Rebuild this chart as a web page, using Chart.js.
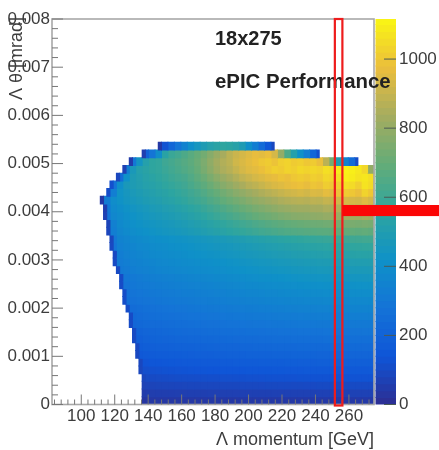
<!DOCTYPE html>
<html>
<head>
<meta charset="utf-8">
<script src="https://cdn.jsdelivr.net/npm/chart.js@4"></script>
<style>
  html, body { margin: 0; background: #fff; }
  canvas { display: block; filter: blur(0.5px); }
</style>
</head>
<body>
<canvas id="hist" width="439" height="450"></canvas>
<script>
// histogram binning
const xBinStart = 82.5, xBinWidth = 1.925, yBinWidth = 0.00016;
const xMin = 82.5, xMax = 288.15, yMax = 0.008, zMax = 1116;

const xTickValues = [100, 120, 140, 160, 180, 200, 220, 240, 260];
const xMinorTicks = [84, 88, 92, 96, 104, 108, 112, 116, 124, 128, 132, 136, 144, 148, 152, 156, 164, 168, 172, 176, 184, 188, 192, 196, 204, 208, 212, 216, 224, 228, 232, 236, 244, 248, 252, 256, 264, 268, 272];
const yTickValues = [0, 0.001, 0.002, 0.003, 0.004, 0.005, 0.006, 0.007, 0.008];
const yTickLabels = ['0', '0.001', '0.002', '0.003', '0.004', '0.005', '0.006', '0.007', '0.008'];
const yMinorTicks = [0.0002, 0.0004, 0.0006, 0.0008, 0.0012, 0.0014, 0.0016, 0.0018, 0.0022, 0.0024, 0.0026, 0.0028, 0.0032, 0.0034, 0.0036, 0.0038, 0.0042, 0.0044, 0.0046, 0.0048, 0.0052, 0.0054, 0.0056, 0.0058, 0.0062, 0.0064, 0.0066, 0.0068, 0.0072, 0.0074, 0.0076, 0.0078];
const zTickValues = [0, 200, 400, 600, 800, 1000];

// colour bar levels
const zLevels = [10, 30, 50, 70, 90, 110, 130, 150, 170, 190, 210, 230, 250, 270, 290, 310, 330, 350, 370, 390, 410, 430, 450, 470, 490, 510, 530, 550, 570, 590, 610, 630, 650, 670, 690, 710, 730, 750, 770, 790, 810, 830, 850, 870, 890, 910, 930, 950, 970, 990, 1010, 1030, 1050, 1070, 1090, 1110];

// first and last x bin of each row, bottom row first
const rowStart = [28, 28, 28, 28, 27, 27, 26, 26, 25, 25, 24, 24, 23, 22, 22, 21, 21, 20, 19, 19, 18, 18, 17, 17, 16, 16, 15, 17, 18, 20, 22, 24, 28, 33];
const rowEnd = [100, 100, 100, 100, 100, 100, 100, 100, 100, 100, 100, 100, 100, 100, 100, 100, 100, 100, 100, 100, 100, 100, 100, 100, 100, 100, 100, 100, 100, 100, 100, 95, 83, 69];
// dark cell on the left edge of each row
const edgeValues = [32, 52, 72, 88, 90, 92, 95, 98, 100, 100, 105, 105, 110, 110, 110, 105, 105, 100, 100, 95, 95, 90, 85, 80, 70, 60, 40, 110, 120, 90, 70, 50, 60, 40];

// cell contents, each row left to right, 2 x bins per cell
const cellRows = [
  [36, 37, 37, 38, 38, 38, 39, 39, 39, 39, 40, 40, 40, 40, 40, 41, 41, 41, 41, 41, 41, 42, 42, 42, 42, 42, 42, 42, 43, 43, 43, 43, 43, 43, 43, 43],
  [56, 58, 59, 60, 61, 62, 62, 63, 64, 64, 65, 65, 66, 66, 67, 67, 67, 68, 68, 68, 69, 69, 69, 70, 70, 70, 70, 71, 71, 71, 71, 72, 72, 72, 72, 72],
  [78, 80, 82, 83, 84, 85, 86, 87, 88, 89, 90, 90, 91, 92, 92, 93, 94, 94, 95, 96, 96, 97, 97, 98, 98, 99, 99, 100, 100, 100, 101, 101, 101, 102, 102, 102],
  [100, 102, 104, 106, 108, 110, 111, 112, 113, 114, 115, 116, 117, 118, 119, 120, 121, 122, 123, 124, 125, 126, 126, 127, 128, 128, 129, 129, 130, 130, 131, 131, 131, 132, 132, 132],
  [118, 123, 126, 128, 130, 132, 134, 135, 137, 138, 140, 141, 143, 144, 145, 146, 147, 149, 150, 151, 152, 153, 154, 155, 155, 156, 157, 157, 158, 158, 159, 159, 160, 160, 160, 161],
  [136, 142, 146, 149, 152, 154, 156, 158, 160, 162, 164, 165, 167, 168, 170, 171, 173, 174, 175, 176, 178, 179, 180, 181, 182, 182, 183, 184, 184, 185, 185, 186, 186, 187, 187, 188],
  [154, 162, 167, 170, 173, 176, 178, 180, 182, 184, 186, 188, 190, 192, 194, 195, 197, 198, 200, 201, 202, 204, 205, 206, 207, 208, 209, 209, 210, 210, 211, 212, 212, 213, 213, 214, 214],
  [172, 180, 185, 189, 192, 195, 198, 200, 202, 204, 206, 208, 210, 212, 214, 216, 218, 220, 222, 224, 225, 226, 228, 229, 230, 231, 232, 233, 234, 234, 235, 236, 236, 237, 237, 238, 238],
  [188, 198, 203, 207, 211, 214, 217, 220, 222, 225, 227, 229, 231, 234, 236, 238, 240, 242, 244, 246, 248, 249, 251, 252, 254, 255, 256, 257, 258, 259, 259, 260, 260, 261, 261, 262, 262],
  [205, 215, 220, 224, 228, 232, 235, 238, 241, 244, 246, 249, 252, 254, 256, 259, 261, 263, 265, 267, 269, 271, 273, 274, 276, 277, 279, 280, 281, 282, 283, 284, 284, 285, 285, 286, 286],
  [218, 229, 236, 240, 244, 248, 252, 255, 258, 261, 264, 267, 269, 272, 275, 277, 280, 282, 285, 287, 289, 291, 293, 295, 297, 298, 300, 301, 302, 303, 304, 305, 306, 307, 307, 308, 308, 309],
  [232, 243, 250, 255, 259, 263, 267, 271, 274, 277, 280, 283, 286, 289, 292, 295, 298, 300, 303, 305, 308, 310, 312, 314, 316, 318, 320, 321, 323, 324, 325, 326, 327, 328, 329, 330, 330, 331],
  [246, 258, 265, 270, 275, 279, 283, 287, 290, 294, 297, 300, 304, 307, 310, 313, 316, 319, 322, 325, 328, 330, 333, 335, 338, 340, 342, 344, 345, 347, 348, 350, 351, 352, 353, 354, 354, 355],
  [260, 272, 279, 285, 290, 294, 298, 302, 306, 309, 313, 316, 320, 323, 327, 330, 334, 337, 340, 343, 346, 349, 352, 355, 357, 360, 362, 364, 366, 368, 369, 371, 372, 373, 374, 375, 376, 376, 377],
  [272, 284, 292, 298, 303, 308, 312, 316, 320, 324, 327, 331, 335, 339, 343, 346, 350, 354, 357, 361, 364, 367, 371, 374, 377, 380, 382, 385, 387, 389, 391, 393, 394, 396, 397, 398, 399, 400, 400],
  [285, 296, 305, 311, 317, 322, 326, 331, 335, 339, 343, 347, 351, 355, 360, 364, 368, 372, 376, 379, 383, 387, 390, 394, 397, 401, 404, 406, 409, 411, 413, 415, 417, 418, 420, 421, 422, 423, 424],
  [296, 308, 318, 325, 331, 336, 341, 346, 350, 355, 359, 364, 368, 373, 377, 382, 386, 390, 395, 399, 403, 407, 411, 415, 419, 423, 426, 429, 432, 435, 437, 439, 441, 443, 445, 447, 448, 449, 450],
  [305, 318, 330, 338, 345, 351, 356, 361, 366, 370, 375, 379, 384, 389, 394, 399, 403, 408, 413, 417, 422, 426, 431, 435, 439, 444, 448, 452, 455, 458, 461, 464, 466, 468, 470, 472, 474, 475, 476, 477],
  [315, 330, 342, 351, 358, 365, 370, 375, 380, 385, 390, 395, 400, 405, 410, 415, 420, 425, 430, 435, 440, 445, 450, 455, 460, 465, 469, 473, 477, 480, 484, 487, 490, 492, 495, 497, 500, 502, 503, 505],
  [325, 342, 354, 364, 372, 379, 385, 391, 396, 401, 406, 412, 417, 423, 428, 434, 440, 445, 451, 457, 463, 468, 474, 480, 486, 491, 496, 501, 505, 509, 513, 517, 520, 523, 526, 529, 532, 534, 536, 538],
  [290, 338, 353, 365, 375, 383, 390, 396, 402, 408, 414, 419, 425, 431, 437, 443, 449, 456, 462, 468, 474, 481, 487, 494, 501, 507, 513, 519, 525, 530, 535, 540, 544, 548, 552, 556, 560, 563, 566, 568, 570],
  [300, 350, 365, 378, 388, 396, 403, 410, 416, 422, 428, 434, 441, 448, 455, 462, 469, 476, 484, 491, 498, 506, 514, 522, 530, 537, 544, 551, 558, 564, 570, 575, 580, 585, 590, 595, 600, 604, 607, 610, 612],
  [330, 368, 384, 398, 410, 420, 430, 438, 446, 454, 462, 470, 480, 490, 502, 514, 526, 538, 550, 562, 574, 586, 598, 610, 620, 630, 640, 648, 655, 660, 665, 668, 672, 675, 680, 684, 690, 690, 685, 692, 685],
  [340, 380, 398, 412, 425, 435, 443, 452, 460, 469, 478, 488, 500, 512, 525, 538, 552, 566, 580, 594, 608, 622, 636, 650, 661, 672, 682, 692, 700, 706, 712, 716, 720, 726, 730, 738, 745, 745, 740, 750, 742],
  [290, 370, 390, 410, 425, 438, 450, 460, 470, 480, 490, 500, 512, 525, 540, 555, 572, 590, 608, 625, 642, 660, 678, 695, 710, 722, 735, 750, 760, 770, 775, 778, 785, 790, 800, 800, 815, 825, 825, 820, 835, 825],
  [300, 385, 405, 425, 440, 455, 465, 478, 488, 500, 510, 522, 535, 550, 565, 585, 605, 625, 645, 665, 685, 705, 722, 740, 755, 770, 785, 800, 810, 820, 825, 825, 835, 835, 850, 845, 865, 880, 875, 870, 890, 875],
  [320, 400, 425, 445, 460, 475, 490, 500, 510, 525, 535, 550, 565, 585, 600, 620, 645, 665, 690, 710, 730, 750, 770, 790, 805, 820, 835, 850, 860, 870, 875, 870, 885, 880, 900, 895, 920, 935, 930, 925, 950, 930],
  [330, 430, 455, 475, 490, 505, 515, 530, 540, 555, 570, 585, 605, 625, 650, 675, 700, 725, 750, 775, 795, 815, 835, 855, 870, 885, 900, 915, 925, 935, 925, 945, 940, 965, 950, 985, 1010, 1000, 980, 1030, 1000],
  [280, 410, 470, 490, 505, 520, 530, 545, 560, 575, 590, 605, 630, 655, 680, 710, 740, 770, 795, 820, 845, 870, 885, 905, 925, 940, 950, 965, 975, 985, 970, 995, 985, 1015, 1000, 1020, 1060, 1050, 1020, 1070, 1050],
  [250, 420, 490, 510, 530, 545, 560, 575, 595, 610, 625, 650, 680, 710, 745, 780, 810, 835, 860, 890, 910, 930, 945, 960, 970, 990, 980, 1000, 1010, 1000, 1020, 1010, 1040, 1030, 1060, 1100, 1090, 1070, 1080, 1060],
  [330, 470, 520, 540, 560, 570, 590, 610, 630, 650, 670, 700, 740, 780, 820, 850, 870, 900, 930, 950, 960, 980, 1000, 1020, 1010, 1030, 1020, 1040, 1030, 1040, 1030, 1060, 1050, 1090, 1110, 1100, 1080, 1040, 800],
  [300, 440, 520, 560, 570, 600, 620, 640, 660, 680, 710, 750, 790, 830, 860, 880, 920, 940, 960, 980, 1000, 1010, 990, 1020, 1030, 1010, 1020, 1000, 1010, 980, 880, 730, 500, 350, 240, 110],
  [200, 290, 400, 540, 590, 610, 640, 670, 700, 730, 770, 810, 840, 880, 910, 930, 950, 970, 960, 980, 930, 800, 640, 520, 420, 330, 220, 120],
  [130, 220, 290, 350, 410, 450, 490, 520, 540, 560, 550, 530, 490, 410, 330, 240, 150, 90]
];

// palette sampled from the colour bar in the picture (ROOT bird, a bit washed out)
const birdStops = [
  [45, 45, 145], [15, 85, 215], [20, 115, 215], [15, 145, 200], [45, 165, 160],
  [100, 172, 120], [165, 172, 95], [235, 190, 60], [250, 245, 20]
];

function birdColor(z) {
  const t = Math.min(Math.max(z / zMax, 0), 1) * (birdStops.length - 1);
  const i = Math.min(Math.floor(t), birdStops.length - 2);
  const f = t - i;
  const c = [0, 1, 2].map(n => Math.round(birdStops[i][n] + (birdStops[i + 1][n] - birdStops[i][n]) * f));
  return 'rgb(' + c.join(',') + ')';
}

const binToX = k => xBinStart + k * xBinWidth;

const cellData = [];
const cellColors = [];
cellRows.forEach((vals, r) => {
  const y = (r + 0.5) * yBinWidth;
  let hi = rowEnd[r];
  for (let i = vals.length - 1; i >= 0; i--) {
    const lo = Math.max(hi % 2 ? hi - 1 : hi - 2, rowStart[r] + 1);
    cellData.push({ x: [binToX(lo), binToX(hi)], y: y });
    cellColors.push(birdColor(vals[i]));
    hi = lo;
  }
  cellData.push({ x: [binToX(rowStart[r]), binToX(rowStart[r] + 1)], y: y });
  cellColors.push(birdColor(edgeValues[r]));
});

const frameXMax = 275;
const barLeft = 276.2;

const overlay = {
  id: 'overlay',
  afterDatasetsDraw(chart) {
    const { ctx, scales } = chart;
    const { x, y, yz } = scales;
    const top = y.getPixelForValue(yMax), bottom = y.getPixelForValue(0);
    const left = x.getPixelForValue(xMin), right = x.getPixelForValue(frameXMax);
    ctx.save();

    // frame
    ctx.strokeStyle = '#a8a8a8';
    ctx.lineWidth = 1.6;
    ctx.strokeRect(left, top, right - left, bottom - top);

    // inward ticks, ROOT style
    ctx.strokeStyle = '#777';
    ctx.lineWidth = 1;
    ctx.beginPath();
    xTickValues.forEach(v => { const p = x.getPixelForValue(v); ctx.moveTo(p, bottom); ctx.lineTo(p, bottom - 10); });
    xMinorTicks.forEach(v => { const p = x.getPixelForValue(v); ctx.moveTo(p, bottom); ctx.lineTo(p, bottom - 5); });
    yTickValues.forEach(v => { const p = y.getPixelForValue(v); ctx.moveTo(left, p); ctx.lineTo(left + 11, p); });
    yMinorTicks.forEach(v => { const p = y.getPixelForValue(v); ctx.moveTo(left, p); ctx.lineTo(left + 6, p); });
    ctx.stroke();
    ctx.strokeStyle = '#4a5a55';
    ctx.beginPath();
    zTickValues.forEach(v => { const p = yz.getPixelForValue(v); ctx.moveTo(chart.chartArea.right, p); ctx.lineTo(chart.chartArea.right - 12, p); });
    ctx.stroke();

    // titles
    ctx.fillStyle = '#3c3c3c';
    ctx.font = '18px "Liberation Sans"';
    ctx.textAlign = 'right';
    ctx.fillText('Λ momentum [GeV]', right, 445);
    ctx.save();
    ctx.translate(22, 17);
    ctx.rotate(-Math.PI / 2);
    ctx.fillText('Λ θ [mrad]', 0, 0);
    ctx.restore();

    ctx.fillStyle = '#222';
    ctx.textAlign = 'left';
    ctx.font = 'bold 20px "Liberation Sans"';
    ctx.fillText('18x275', 215, 45);
    ctx.font = 'bold 20.4px "Liberation Sans"';
    ctx.fillText('ePIC Performance', 215, 88);

    // red markers
    ctx.strokeStyle = '#ee1c1c';
    ctx.lineWidth = 2.2;
    ctx.strokeRect(x.getPixelForValue(251.6), top, x.getPixelForValue(256.1) - x.getPixelForValue(251.6), bottom - top + 1);
    ctx.fillStyle = '#fb0606';
    const armTop = y.getPixelForValue(0.00414), armBottom = y.getPixelForValue(0.00391);
    ctx.fillRect(x.getPixelForValue(256.1), armTop, chart.width - x.getPixelForValue(256.1), armBottom - armTop);

    ctx.restore();
  }
};

const tickFont = { family: '"Liberation Sans"', size: 17 };
const hiddenGrid = { display: false, drawTicks: false, tickLength: 0 };

new Chart(document.getElementById('hist'), {
  type: 'bar',
  data: {
    datasets: [{
      data: cellData,
      backgroundColor: cellColors,
      xAxisID: 'x',
      yAxisID: 'y',
      grouped: false,
      barThickness: 7.71,
      borderWidth: 0,
      inflateAmount: 0.5
    }, {
      data: zLevels.map(z => ({ x: [barLeft, xMax], y: z })),
      backgroundColor: zLevels.map(birdColor),
      xAxisID: 'x',
      yAxisID: 'yz',
      grouped: false,
      barThickness: 6.91,
      borderWidth: 0,
      inflateAmount: 0.5
    }]
  },
  plugins: [overlay],
  options: {
    indexAxis: 'y',
    responsive: false,
    animation: false,
    layout: { padding: { top: 19, left: 0, right: 0, bottom: 0 } },
    plugins: { legend: { display: false }, tooltip: { enabled: false } },
    scales: {
      x: {
        type: 'linear',
        position: 'bottom',
        min: xMin,
        max: xMax,
        offset: false,
        grid: hiddenGrid,
        border: { display: false },
        afterBuildTicks: axis => { axis.ticks = xTickValues.map(value => ({ value })); },
        afterFit: axis => { axis.height = 45.5; },
        ticks: { font: tickFont, color: '#3c3c3c', padding: 2, maxRotation: 0, autoSkip: false, callback: v => String(v) }
      },
      y: {
        type: 'linear',
        position: 'left',
        min: 0,
        max: yMax,
        offset: false,
        grid: hiddenGrid,
        border: { display: false },
        afterBuildTicks: axis => { axis.ticks = yTickValues.map(value => ({ value })); },
        afterFit: axis => { axis.width = 52; },
        ticks: { font: tickFont, color: '#3c3c3c', padding: 2, autoSkip: false, callback: (v, i) => yTickLabels[i] }
      },
      yz: {
        type: 'linear',
        position: 'right',
        min: 0,
        max: zMax,
        offset: false,
        grid: hiddenGrid,
        border: { display: false },
        afterBuildTicks: axis => { axis.ticks = zTickValues.map(value => ({ value })); },
        afterFit: axis => { axis.width = 43; },
        ticks: { font: tickFont, color: '#3c3c3c', padding: 3, autoSkip: false, callback: v => String(v) }
      }
    }
  }
});
</script>
</body>
</html>
